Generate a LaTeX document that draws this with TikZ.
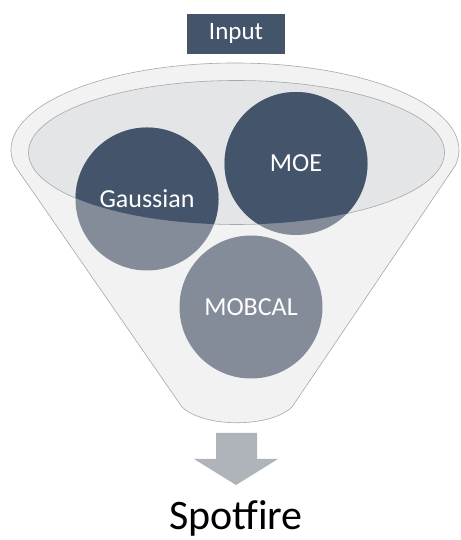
\documentclass[tikz,border=0pt]{standalone}
\usepackage{fontspec}
\setmainfont{Carlito}
\definecolor{slate}{HTML}{44546A}
\definecolor{slatelight}{HTML}{848C9A}
\definecolor{funnelfill}{HTML}{F2F2F2}
\definecolor{bowlfill}{HTML}{E4E5E7}
\definecolor{rim}{HTML}{A5A8AD}
\definecolor{arrowgrey}{HTML}{AFB3BA}
\tikzset{
  ball/.style={circle, minimum size=143pt, inner sep=0pt, fill=slatelight,
    text=white, font=\fontsize{26}{30}\selectfont,
    path picture={\fill[slate] (bowl) ellipse [x radius=208, y radius=72];}},
  tag/.style={fill=slate, text=white, minimum width=98pt, minimum height=40pt,
    inner sep=0pt, font=\fontsize{25}{30}\selectfont}
}
\begin{document}
\begin{tikzpicture}[x=1pt,y=1pt]
      \useasboundingbox (0,0) rectangle (460,540);
      % funnel body
      \draw[rim, fill=funnelfill, line width=0.6pt]
        (14.4,374.9) arc [start angle=190, end angle=-10, x radius=224, y radius=87]
        -- (292,133) .. controls (270,112) and (204,112) .. (182,133) -- cycle;
      \coordinate (bowl) at (236.5,387.5);
      \draw[rim, fill=bowlfill, line width=0.6pt] (bowl) ellipse [x radius=208, y radius=72];
      \node[ball] (gaussian) at (147,341) {Gaussian};
      \node[ball] (moe) at (296,376.5) {MOE};
      \node[ball] (mobcal) at (251,233) {MOBCAL};
      \node[tag] (input) at (236,506) {Input};
      % output arrow
      \fill[arrowgrey] (216,107) -- (257,107) -- (257,81) -- (278,81)
        -- (236,55) -- (194,81) -- (216,81) -- cycle;
      \node[anchor=base, font=\fontsize{42}{50}\selectfont] (spotfire) at (236,10) {Spotfire};
    \end{tikzpicture}
\end{document}
